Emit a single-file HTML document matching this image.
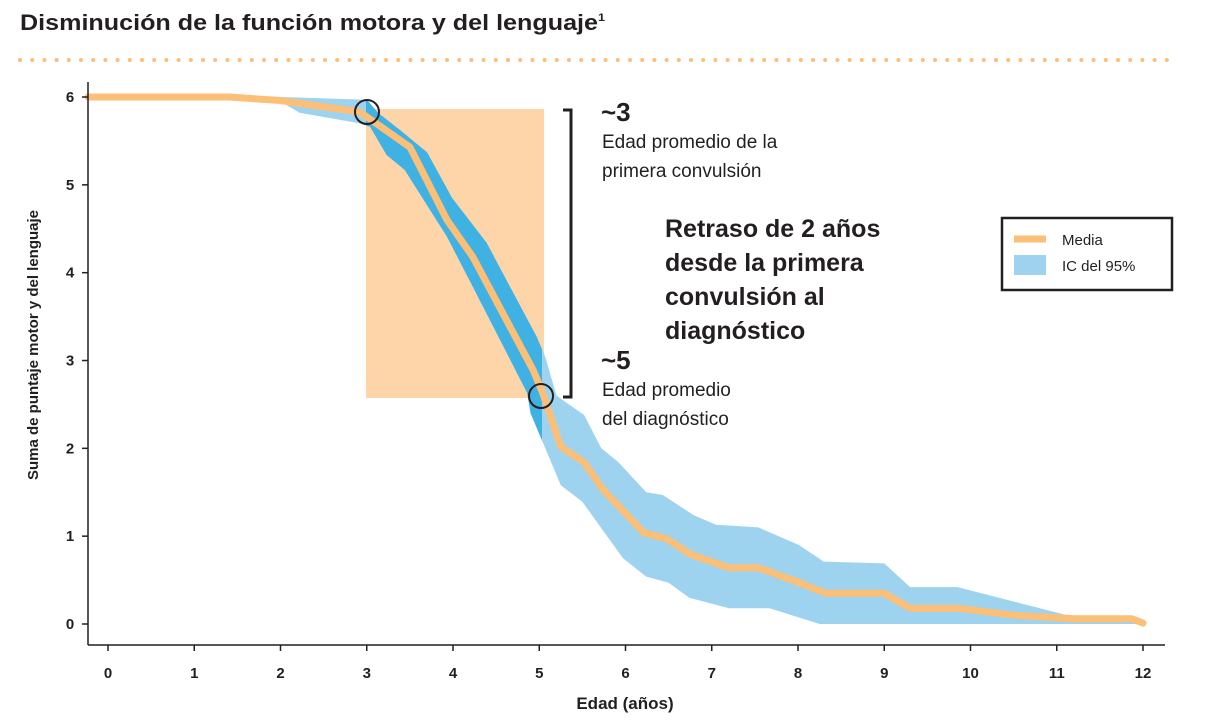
<!DOCTYPE html>
<html><head><meta charset="utf-8"><style>
body{margin:0;background:#fff;}
svg{display:block;font-family:"Liberation Sans",sans-serif;}
</style></head><body>
<svg width="1227" height="720" viewBox="0 0 1227 720">
<text x="20" y="30" font-size="22" font-weight="bold" fill="#231f20" textLength="585" lengthAdjust="spacingAndGlyphs">Disminución de la función motora y del lenguaje<tspan font-size="11" dy="-9">1</tspan></text>
<g id="dots"></g>
<rect x="366" y="109" width="178" height="289" fill="#fdd5a8"/>
<defs><clipPath id="cl"><rect x="366" y="0" width="176" height="700"/></clipPath></defs>
<path id="band" fill="#9ed3ef"/>
<path id="bandDark" fill="#3fb1e3" clip-path="url(#cl)"/>
<path id="mean" fill="none" stroke="#fbbf78" stroke-width="7" stroke-linejoin="round" stroke-linecap="round"/>
<circle cx="367" cy="112" r="12" fill="none" stroke="#231f20" stroke-width="2"/>
<circle cx="541" cy="396" r="12" fill="none" stroke="#231f20" stroke-width="2"/>
<path d="M563 110 H571 V397 H563" fill="none" stroke="#231f20" stroke-width="3"/>
<g id="axes" stroke="#231f20" stroke-width="1.5">
<line x1="88" y1="82" x2="88" y2="645"/><line x1="88" y1="645" x2="1165" y2="645"/>
</g>
<g id="ticks"></g>
<text transform="translate(38,345) rotate(-90)" text-anchor="middle" font-size="15" font-weight="bold" fill="#231f20">Suma de puntaje motor y del lenguaje</text>
<text x="625" y="709" text-anchor="middle" font-size="17" font-weight="bold" fill="#231f20">Edad (años)</text>
<g fill="#231f20">
<text x="601" y="121" font-size="26" font-weight="bold">~3</text>
<text x="602" y="148" font-size="19">Edad promedio de la</text>
<text x="602" y="177" font-size="19">primera convulsión</text>
<text x="665" y="237" font-size="25" font-weight="bold">Retraso de 2 años</text>
<text x="665" y="271" font-size="25" font-weight="bold">desde la primera</text>
<text x="665" y="305" font-size="25" font-weight="bold">convulsión al</text>
<text x="665" y="339" font-size="25" font-weight="bold">diagnóstico</text>
<text x="601" y="369" font-size="26" font-weight="bold">~5</text>
<text x="602" y="396" font-size="19">Edad promedio</text>
<text x="602" y="425" font-size="19">del diagnóstico</text>
</g>
<g>
<rect x="1002" y="218" width="170" height="72" fill="#fff" stroke="#231f20" stroke-width="2.5"/>
<line x1="1014" y1="239" x2="1046" y2="239" stroke="#fbbf78" stroke-width="7"/>
<text x="1062" y="245" font-size="15" fill="#231f20">Media</text>
<rect x="1014" y="255" width="32" height="20" fill="#9ed3ef"/>
<text x="1062" y="271" font-size="15" fill="#231f20">IC del 95%</text>
</g>
</svg>
<script>
const ages=[-0.23,1.4,2,2.92,3.5,3.93,4.23,4.93,5.04,5.25,5.52,5.74,6.21,6.48,6.76,7.2,7.54,7.99,8.32,9.0,9.3,9.85,10.5,11.2,11.87,12];
const meanVals=[6,6,5.96,5.83,5.43,4.6,4.18,2.89,2.63,2.02,1.84,1.53,1.04,0.97,0.79,0.64,0.64,0.48,0.35,0.35,0.18,0.18,0.1,0.06,0.06,0.01];
const upperAges=[-0.23,2,3,3.13,3.39,3.7,3.99,4.39,4.97,5.07,5.2,5.52,5.72,5.92,6.24,6.43,6.79,7.05,7.54,8.01,8.3,9.0,9.3,9.85,11.2,12];
const upperVals=[6,6,5.97,5.82,5.62,5.37,4.85,4.34,3.27,3.04,2.6,2.38,2.0,1.84,1.5,1.47,1.24,1.13,1.1,0.9,0.71,0.69,0.42,0.42,0.08,0.03];
const lowerAges=[-0.23,1.4,2,2.22,2.92,3.04,3.23,3.44,3.93,4.23,4.86,4.9,5.25,5.5,5.97,6.24,6.5,6.74,7.2,7.67,8.25,12];
const lowerVals=[6,6,5.95,5.82,5.7,5.66,5.34,5.17,4.41,3.84,2.63,2.4,1.58,1.39,0.75,0.54,0.47,0.3,0.18,0.18,0,0];
const xTicks=[0,1,2,3,4,5,6,7,8,9,10,11,12];
const yTicks=[0,1,2,3,4,5,6];
const X=v=>108+86.25*v, Y=v=>624-87.83*v;
const pts=(a,b)=>a.map((v,i)=>X(v).toFixed(1)+','+Y(b[i]).toFixed(1));
const band='M'+pts(upperAges,upperVals).join('L')+'L'+pts(lowerAges,lowerVals).reverse().join('L')+'Z';
document.getElementById('band').setAttribute('d',band);
document.getElementById('bandDark').setAttribute('d',band);
document.getElementById('mean').setAttribute('d','M'+pts(ages,meanVals).join('L'));
const NS='http://www.w3.org/2000/svg';
const tg=document.getElementById('ticks');
xTicks.forEach(t=>{
 const l=document.createElementNS(NS,'line');
 l.setAttribute('x1',X(t));l.setAttribute('x2',X(t));l.setAttribute('y1',645);l.setAttribute('y2',651);l.setAttribute('stroke','#231f20');l.setAttribute('stroke-width','1.5');
 
 
 tg.appendChild(l);
 const s=document.createElementNS(NS,'text');
 s.setAttribute('x',X(t));s.setAttribute('y',678);s.setAttribute('text-anchor','middle');s.setAttribute('font-size','15');s.setAttribute('font-weight','bold');s.setAttribute('fill','#231f20');s.textContent=t;
 
 
 tg.appendChild(s);
});
yTicks.forEach(t=>{
 const l=document.createElementNS(NS,'line');
 l.setAttribute('x1',82);l.setAttribute('x2',88);l.setAttribute('y1',Y(t));l.setAttribute('y2',Y(t));l.setAttribute('stroke','#231f20');l.setAttribute('stroke-width','1.5');
 
 
 tg.appendChild(l);
 const s=document.createElementNS(NS,'text');
 s.setAttribute('x',70);s.setAttribute('y',Y(t)+5);s.setAttribute('text-anchor','middle');s.setAttribute('font-size','15');s.setAttribute('font-weight','bold');s.setAttribute('fill','#231f20');s.textContent=t;
 
 
 tg.appendChild(s);
});
const dg=document.getElementById('dots');
for(let x=20;x<=1172;x+=12.2){
 const c=document.createElementNS(NS,'circle');
 c.setAttribute('cx',x);c.setAttribute('cy',60);c.setAttribute('r',2);c.setAttribute('fill','#fbbf78');
 
 
 dg.appendChild(c);
}
</script>
</body></html>
